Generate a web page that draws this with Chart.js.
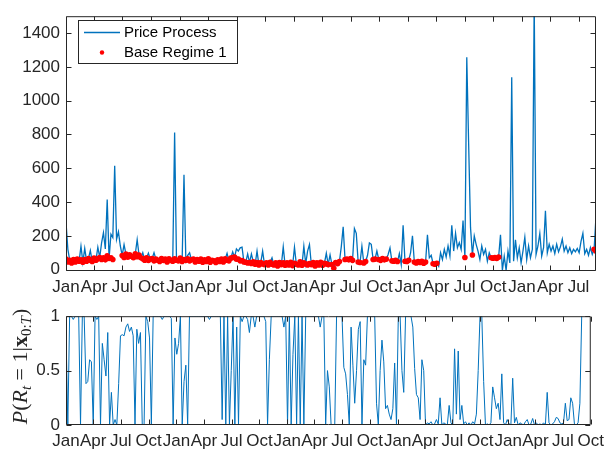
<!DOCTYPE html>
<html>
<head>
<meta charset="utf-8">
<script src="https://cdn.jsdelivr.net/npm/chart.js@4"></script>
<style>
  body { margin: 0; background: #fff; }
  #wrap { position: relative; width: 610px; height: 455px; }
  canvas { position: absolute; left: 0; }
  #top { top: 0; }
  #bottom { top: 300px; }
</style>
</head>
<body>
<div id="wrap">
  <canvas id="top" width="610" height="300"></canvas>
  <canvas id="bottom" width="610" height="155"></canvas>
</div>
<script>
// one sample every 6 days, starting Jan 1
const startYear = 2011;
const sampleStepDays = 6;
const quarterLabels = ['Jan', 'Apr', 'Jul', 'Oct'];
const priceTicks = [0, 200, 400, 600, 800, 1000, 1200, 1400];
const probTicks = [0, 0.5, 1];

const priceProcess = [
  280,120,55,40,60,45,63,50,139,44,
  126,50,66,113,48,68,56,133,72,158,
  219,122,415,66,210,190,615,180,224,140,
  84,148,92,74,88,78,70,94,177,86,
  70,100,56,70,98,62,66,100,62,56,
  48,66,54,62,46,64,55,50,811,56,
  52,68,48,562,54,85,100,58,62,46,
  60,50,62,44,58,48,64,44,56,52,
  42,58,48,62,46,64,97,52,68,105,
  74,123,110,129,133,46,44,93,42,93,
  46,32,110,28,42,110,30,40,28,44,
  70,28,40,22,42,30,135,26,40,28,
  44,24,133,32,28,46,26,139,34,110,
  149,30,42,22,40,28,44,26,38,97,
  30,87,30,8,42,35,48,136,253,60,
  62,58,66,55,243,215,45,42,139,40,
  48,85,158,150,60,62,110,60,55,65,
  58,62,90,129,52,50,55,48,95,30,
  263,50,48,55,100,200,45,40,48,42,
  50,38,45,206,70,85,35,32,38,20,
  100,60,120,75,140,80,263,110,215,130,
  160,120,291,72,1257,743,250,87,200,150,
  110,60,140,90,120,50,100,70,68,72,
  66,74,206,-4,80,-5,110,40,1139,50,
  177,70,130,40,110,192,60,140,70,120,
  1600,90,140,215,80,130,349,100,150,110,
  140,95,150,105,135,181,110,140,100,130,
  95,120,105,125,100,167,215,95,120,85,
  130,90,120,316
];

const baseRegime1 = [
  62,46,55,40,60,45,63,50,58,44,
  60,50,66,55,48,68,56,64,72,60,
  70,58,82,66,70,60,null,null,null,null,
  84,72,92,74,88,78,70,94,76,86,
  70,64,56,70,54,62,66,52,62,56,
  48,66,54,62,46,64,55,50,64,56,
  52,68,48,60,54,64,52,58,62,46,
  60,50,62,44,58,48,64,44,56,52,
  42,58,48,62,46,64,56,52,68,72,
  74,62,62,52,54,46,44,40,42,36,
  46,32,42,28,42,34,30,40,28,44,
  32,28,40,22,42,30,40,26,40,28,
  44,24,38,32,28,46,26,40,34,28,
  36,30,42,22,40,28,44,26,38,34,
  30,null,30,8,42,35,48,null,null,60,
  62,58,66,55,null,null,45,42,null,40,
  48,null,null,null,60,62,null,60,55,65,
  58,62,null,null,52,50,55,48,null,null,
  null,50,48,55,null,null,45,40,48,42,
  50,38,45,null,null,null,35,32,38,null,
  null,null,null,null,null,null,null,null,null,null,
  null,null,null,72,null,null,null,87,null,null,
  null,null,null,null,null,null,null,70,68,72,
  66,74,null,null,null,null,null,null,null,null,
  null,null,null,null,null,null,null,null,null,null,
  null,null,null,null,null,null,null,null,null,null,
  null,null,null,null,null,null,null,null,null,null,
  null,null,null,null,null,null,null,null,null,null,
  null,null,120,110
];

const regimeProb = [
  0.85,0,1,1,0.97,1,1,1,0,1,
  1,0.38,0.4,0.6,0.58,0,1,0.97,1,0,
  0.75,0.6,0.45,0.85,0,0.3,0,0.05,0,0.38,
  0.82,0.83,0.82,0.9,0.93,0.86,0.9,0.82,0,0.88,
  0.75,0.85,0,0,1,0.95,0.8,0,1,1,
  1,1,1,0.97,1,1,1,1,0.98,0,
  0.8,0.65,0.75,1,0,0.4,0.55,0,1,1,
  1,1,1,1,1,1,1,1,1,0.97,
  1,1,1,1,1,1,0.05,1,0,1,
  0,0.5,1,0,0.9,0,1,0.95,1,1,
  0.97,0.85,1,1,0.9,1,1,1,1,1,
  0.95,0,0.6,1,1,1,1,1,1,1,
  0.9,1,0,1,0,0.65,1,0,1,0,
  1,0,1,1,1,1,1,1,1,1,
  0.9,1,1,0,0.5,0.35,0,0,0,1,
  1,1,1,0.53,0.47,0.28,0,0.9,0.55,0.2,
  0.5,0.88,0.95,0,0.6,0.55,1,1,1,1,
  1,0.2,0,0.5,0.78,0.58,0.15,0.18,0.1,0.05,
  0.15,0.57,0,1,1,0.5,0.3,1,1,1,
  1,0.9,0.52,0.28,0.25,0.05,0.6,0.5,0,0.02,
  0.01,0.03,0,0.01,0.05,0.01,0.25,0,0.02,0.01,
  0,0.18,0.02,0,0.7,0.1,0.68,0.05,0.18,0.01,
  0.03,0,0.02,0,0.03,0.01,0.1,0.5,1,1,
  0.4,0,0.01,0,0.02,0.35,0.25,0.15,0.2,0.05,
  0.47,0.02,0,0.05,0.01,0,0.43,0.02,0.07,0,
  0.02,0.01,0,0.03,0.05,0,0.01,0.06,0,0.02,
  0,0.01,0,0.02,0,0.3,0.02,0,0.01,0.03,
  0.07,0.06,0.02,0.01,0.02,0.2,0.04,0.05,0.25,0.2,
  0.01,0,0.02,0.2,1
];

const axisColor = '#262626';
const blue = '#0072bd';
const tickFont = { family: '"Liberation Sans", Arial, sans-serif', size: 17 };

function toPoints(arr) {
  return arr.map((v, i) => ({ x: i * sampleStepDays, y: v }));
}

// Jan/Apr/Jul/Oct tick positions in days since Jan 1 of startYear
function quarterTicks(maxDay) {
  const out = [];
  const t0 = Date.UTC(startYear, 0, 1);
  for (let q = 0; ; q++) {
    const d = Math.round((Date.UTC(startYear + Math.floor(q / 4), (q % 4) * 3, 1) - t0) / 86400000);
    if (d > maxDay + 0.5) break;
    out.push({ value: d, label: quarterLabels[q % 4] });
  }
  return out;
}

const lastDay = (priceProcess.length - 1) * sampleStepDays;
const topQuarters = quarterTicks(lastDay);
const bottomMax = quarterTicks(100000)[19].value; // Oct, year 5
const bottomQuarters = quarterTicks(bottomMax);

function labelOf(list, v) {
  const t = list.find(q => q.value === v);
  return t ? t.label : '';
}

// box around the axes with inward tick marks on all four sides
const frame = {
  id: 'frame',
  afterDraw(chart) {
    const { ctx, chartArea: a, scales } = chart;
    const L = a.left + 0.5, R = a.right - 0.5, T = a.top + 0.5, B = a.bottom - 0.5;
    const len = 5;
    ctx.save();
    ctx.strokeStyle = axisColor;
    ctx.lineWidth = 1;
    ctx.beginPath();
    ctx.rect(L, T, R - L, B - T);
    scales.x.ticks.forEach(t => {
      const px = Math.round(scales.x.getPixelForValue(t.value)) + 0.5;
      ctx.moveTo(px, B); ctx.lineTo(px, B - len);
      ctx.moveTo(px, T); ctx.lineTo(px, T + len);
    });
    scales.y.ticks.forEach(t => {
      const py = Math.round(scales.y.getPixelForValue(t.value)) + 0.5;
      ctx.moveTo(L, py); ctx.lineTo(L + len, py);
      ctx.moveTo(R, py); ctx.lineTo(R - len, py);
    });
    ctx.stroke();
    ctx.restore();
  }
};

const legendBox = {
  id: 'legendBox',
  afterDraw(chart) {
    const ctx = chart.ctx;
    const ds = chart.data.datasets;
    ctx.save();
    ctx.fillStyle = '#fff';
    ctx.fillRect(78.5, 20.5, 159, 43);
    ctx.strokeStyle = axisColor;
    ctx.lineWidth = 1;
    ctx.strokeRect(78.5, 20.5, 159, 43);
    ctx.strokeStyle = blue;
    ctx.lineWidth = 1.3;
    ctx.beginPath();
    ctx.moveTo(84, 32.5); ctx.lineTo(120, 32.5);
    ctx.stroke();
    ctx.fillStyle = '#ff0000';
    ctx.beginPath();
    ctx.arc(102, 52.5, 2.2, 0, Math.PI * 2);
    ctx.fill();
    ctx.fillStyle = '#000';
    ctx.font = '15px "Liberation Sans", Arial, sans-serif';
    ctx.textBaseline = 'middle';
    ctx.fillText(ds[1].label, 124, 32.5);
    ctx.fillText(ds[0].label, 124, 52.5);
    ctx.restore();
  }
};

// rotated y label P(R_t = 1 | x_{0:T}) with italic / bold / subscript parts
const probTitle = {
  id: 'probTitle',
  afterDraw(chart) {
    const ctx = chart.ctx;
    const serif = '"Liberation Serif", "Times New Roman", serif';
    const parts = [
      { t: 'P', f: 'italic 22px ' + serif },
      { t: '(', f: '22px ' + serif },
      { t: 'R', f: 'italic 22px ' + serif },
      { t: 't', f: 'italic 15px ' + serif, sub: true },
      { t: ' = 1|', f: '22px ' + serif },
      { t: 'x', f: 'bold 22px ' + serif },
      { t: '0:', f: '15px ' + serif, sub: true },
      { t: 'T', f: 'italic 15px ' + serif, sub: true },
      { t: ')', f: '22px ' + serif }
    ];
    ctx.save();
    let total = 0;
    parts.forEach(p => { ctx.font = p.f; p.w = ctx.measureText(p.t).width; total += p.w; });
    ctx.translate(27, 66.5);
    ctx.rotate(-Math.PI / 2);
    ctx.fillStyle = axisColor;
    ctx.textBaseline = 'alphabetic';
    let x = -total / 2;
    parts.forEach(p => {
      ctx.font = p.f;
      ctx.fillText(p.t, x, p.sub ? 3.5 : 0);
      x += p.w;
    });
    ctx.restore();
  }
};

new Chart(document.getElementById('top'), {
  type: 'line',
  data: {
    datasets: [
      {
        label: 'Base Regime 1',
        data: toPoints(baseRegime1),
        showLine: false,
        pointRadius: 2.8,
        pointBorderWidth: 0,
        pointBackgroundColor: '#ff0000',
        borderColor: '#ff0000',
        order: 1
      },
      {
        label: 'Price Process',
        data: toPoints(priceProcess),
        borderColor: blue,
        borderWidth: 1.3,
        pointRadius: 0,
        tension: 0,
        order: 2
      }
    ]
  },
  options: {
    responsive: false,
    animation: false,
    events: [],
    layout: { padding: { top: 7, right: 14, left: 0, bottom: 0 } },
    plugins: { legend: { display: false }, tooltip: { enabled: false } },
    scales: {
      x: {
        type: 'linear',
        min: 0,
        max: lastDay,
        afterBuildTicks: s => { s.ticks = topQuarters.map(q => ({ value: q.value })); },
        afterFit: s => { s.height = 29; },
        grid: { display: false, drawTicks: false },
        border: { display: false },
        ticks: {
          autoSkip: false, maxRotation: 0, padding: 6,
          font: tickFont, color: axisColor,
          callback: v => labelOf(topQuarters, v)
        }
      },
      y: {
        min: -8,
        max: 1500,
        afterBuildTicks: s => { s.ticks = priceTicks.map(v => ({ value: v })); },
        afterFit: s => { s.width = 66; },
        grid: { display: false, drawTicks: false },
        border: { display: false },
        ticks: { padding: 6, font: tickFont, color: axisColor, callback: v => String(v) }
      }
    }
  },
  plugins: [frame, legendBox]
});

new Chart(document.getElementById('bottom'), {
  type: 'line',
  data: {
    datasets: [{
      label: 'P(R_t = 1 | x_0:T)',
      data: toPoints(regimeProb),
      borderColor: blue,
      borderWidth: 1,
      pointRadius: 0,
      tension: 0
    }]
  },
  options: {
    responsive: false,
    animation: false,
    events: [],
    layout: { padding: { top: 14, right: 14, left: 0, bottom: 0 } },
    plugins: { legend: { display: false }, tooltip: { enabled: false } },
    scales: {
      x: {
        type: 'linear',
        min: 0,
        max: bottomMax,
        afterBuildTicks: s => { s.ticks = bottomQuarters.map(q => ({ value: q.value })); },
        afterFit: s => { s.height = 30; },
        grid: { display: false, drawTicks: false },
        border: { display: false },
        ticks: {
          autoSkip: false, maxRotation: 0, padding: 6,
          font: tickFont, color: axisColor,
          callback: v => labelOf(bottomQuarters, v)
        }
      },
      y: {
        min: 0,
        max: 1,
        afterBuildTicks: s => { s.ticks = probTicks.map(v => ({ value: v })); },
        afterFit: s => { s.width = 66; },
        grid: { display: false, drawTicks: false },
        border: { display: false },
        ticks: { padding: 6, font: tickFont, color: axisColor, callback: v => String(v) }
      }
    }
  },
  plugins: [frame, probTitle]
});
</script>
</body>
</html>
